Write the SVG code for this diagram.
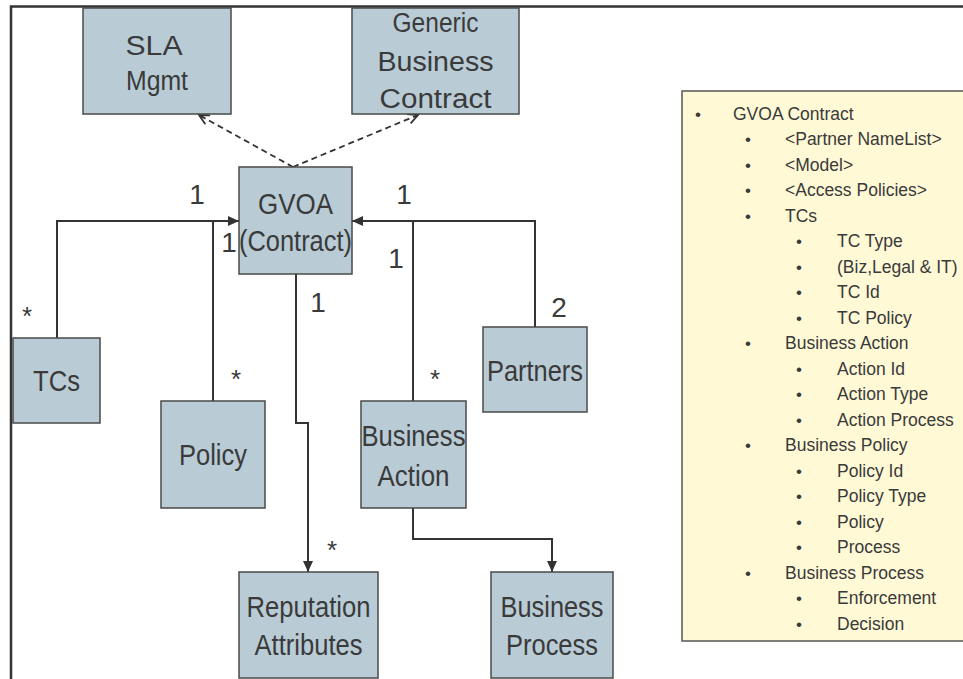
<svg xmlns="http://www.w3.org/2000/svg" width="963" height="679" viewBox="0 0 963 679">
  <style>
    .box { fill: #b9ccd6; stroke: #4a4a4a; stroke-width: 1.5; }
    .lbl { font-family: "Liberation Sans", Arial, sans-serif; font-size: 29px; fill: #3a3a3a; text-anchor: middle; }
    .lbl-s { font-size: 27px; }
    .mult { font-family: "Liberation Sans", Arial, sans-serif; font-size: 28px; fill: #3a3a3a; text-anchor: middle; }
    .star { font-family: "Liberation Sans", Arial, sans-serif; font-size: 26px; fill: #3a3a3a; text-anchor: middle; }
    .wire { fill: none; stroke: #333333; stroke-width: 2; }
    .dash { fill: none; stroke: #333333; stroke-width: 1.8; stroke-dasharray: 6 4; }
    .list { font-family: "Liberation Sans", Arial, sans-serif; font-size: 17.5px; fill: #3a3a3a; }
    .bul { font-family: "Liberation Sans", Arial, sans-serif; font-size: 17px; fill: #3a3a3a; text-anchor: middle; }
  </style>
  <defs>
    <marker id="solidHead" markerUnits="userSpaceOnUse" markerWidth="12" markerHeight="10" refX="11" refY="5" orient="auto">
      <path d="M0,0 L11,5 L0,10 z" fill="#333333"/>
    </marker>
    <marker id="openHead" markerUnits="userSpaceOnUse" markerWidth="14" markerHeight="12" refX="11" refY="6" orient="auto">
      <path d="M1,1 L11,6 L1,11" fill="none" stroke="#333333" stroke-width="1.8"/>
    </marker>
  </defs>

  <rect width="963" height="679" fill="#ffffff"/>

  <!-- slide frame -->
  <path d="M11,679 V6.5 H963" fill="none" stroke="#333333" stroke-width="2.5"/>

  <!-- attribute panel -->
  <g id="panel">
    <rect x="682" y="91" width="300" height="550" fill="#fff9d6" stroke="#555555" stroke-width="1.5"/>
    <g class="bul">
      <text x="698" y="119.5">•</text>
      <text x="748" y="145">•</text>
      <text x="748" y="170.5">•</text>
      <text x="748" y="196">•</text>
      <text x="748" y="221.5">•</text>
      <text x="799" y="247">•</text>
      <text x="799" y="272.5">•</text>
      <text x="799" y="298">•</text>
      <text x="799" y="323.5">•</text>
      <text x="748" y="349">•</text>
      <text x="799" y="374.5">•</text>
      <text x="799" y="400">•</text>
      <text x="799" y="425.5">•</text>
      <text x="748" y="451">•</text>
      <text x="799" y="476.5">•</text>
      <text x="799" y="502">•</text>
      <text x="799" y="527.5">•</text>
      <text x="799" y="553">•</text>
      <text x="748" y="578.5">•</text>
      <text x="799" y="604">•</text>
      <text x="799" y="629.5">•</text>
    </g>
    <g class="list">
      <text x="733" y="119.5">GVOA Contract</text>
      <text x="785" y="145">&lt;Partner NameList&gt;</text>
      <text x="785" y="170.5">&lt;Model&gt;</text>
      <text x="785" y="196">&lt;Access Policies&gt;</text>
      <text x="785" y="221.5">TCs</text>
      <text x="837" y="247">TC Type</text>
      <text x="837" y="272.5">(Biz,Legal &amp; IT)</text>
      <text x="837" y="298">TC Id</text>
      <text x="837" y="323.5">TC Policy</text>
      <text x="785" y="349">Business Action</text>
      <text x="837" y="374.5">Action Id</text>
      <text x="837" y="400">Action Type</text>
      <text x="837" y="425.5">Action Process</text>
      <text x="785" y="451">Business Policy</text>
      <text x="837" y="476.5">Policy Id</text>
      <text x="837" y="502">Policy Type</text>
      <text x="837" y="527.5">Policy</text>
      <text x="837" y="553">Process</text>
      <text x="785" y="578.5">Business Process</text>
      <text x="837" y="604">Enforcement</text>
      <text x="837" y="629.5">Decision</text>
    </g>
  </g>

  <!-- connectors -->
  <g id="connectors">
    <path class="dash" d="M293,167 L199,115" marker-end="url(#openHead)"/>
    <path class="dash" d="M293,167 L418,115" marker-end="url(#openHead)"/>
    <path class="wire" d="M57,338 V221 H239" marker-end="url(#solidHead)"/>
    <path class="wire" d="M213,401 V221"/>
    <path class="wire" d="M535,327 V221 H352" marker-end="url(#solidHead)"/>
    <path class="wire" d="M413,401 V221"/>
    <path class="wire" d="M296,274 V423 H308 V572" marker-end="url(#solidHead)"/>
    <path class="wire" d="M413,508 V539 H552 V572" marker-end="url(#solidHead)"/>
  </g>

  <!-- multiplicities -->
  <g id="multiplicities">
    <text class="mult" x="197" y="204">1</text>
    <text class="mult" x="229" y="252">1</text>
    <text class="mult" x="404" y="204">1</text>
    <text class="mult" x="396" y="268">1</text>
    <text class="mult" x="318" y="312">1</text>
    <text class="mult" x="559" y="317">2</text>
    <text class="star" x="27" y="325">*</text>
    <text class="star" x="236" y="388">*</text>
    <text class="star" x="435" y="388">*</text>
    <text class="star" x="332" y="559">*</text>
  </g>

  <g id="sla-mgmt">
    <rect class="box" x="83" y="8" width="148" height="106"/>
    <text class="lbl lbl-s" x="154" y="55" textLength="57" lengthAdjust="spacingAndGlyphs">SLA</text>
    <text class="lbl lbl-s" x="157" y="90" textLength="62" lengthAdjust="spacingAndGlyphs">Mgmt</text>
  </g>

  <g id="generic-business-contract">
    <rect class="box" x="352" y="8" width="167" height="106"/>
    <text class="lbl lbl-s" x="435.5" y="32" textLength="86" lengthAdjust="spacingAndGlyphs">Generic</text>
    <text class="lbl lbl-s" x="435.5" y="71" textLength="116" lengthAdjust="spacingAndGlyphs">Business</text>
    <text class="lbl lbl-s" x="435.5" y="108" textLength="112" lengthAdjust="spacingAndGlyphs">Contract</text>
  </g>

  <g id="gvoa-contract">
    <rect class="box" x="239" y="167" width="113" height="107"/>
    <text class="lbl" x="295.5" y="214" textLength="75" lengthAdjust="spacingAndGlyphs">GVOA</text>
    <text class="lbl" x="295.5" y="251" textLength="113" lengthAdjust="spacingAndGlyphs">(Contract)</text>
  </g>

  <g id="tcs">
    <rect class="box" x="13" y="338" width="87" height="85"/>
    <text class="lbl" x="56.5" y="391" font-size="31" textLength="47" lengthAdjust="spacingAndGlyphs">TCs</text>
  </g>

  <g id="policy">
    <rect class="box" x="161" y="401" width="104" height="107"/>
    <text class="lbl" x="213" y="465" textLength="68" lengthAdjust="spacingAndGlyphs">Policy</text>
  </g>

  <g id="partners">
    <rect class="box" x="483" y="327" width="104" height="85"/>
    <text class="lbl" x="535" y="381" textLength="96" lengthAdjust="spacingAndGlyphs">Partners</text>
  </g>

  <g id="business-action">
    <rect class="box" x="361" y="401" width="105" height="107"/>
    <text class="lbl" x="413.5" y="446" textLength="104" lengthAdjust="spacingAndGlyphs">Business</text>
    <text class="lbl" x="413.5" y="486" textLength="72" lengthAdjust="spacingAndGlyphs">Action</text>
  </g>

  <g id="reputation-attributes">
    <rect class="box" x="239" y="572" width="139" height="106"/>
    <text class="lbl" x="308.5" y="617" textLength="124" lengthAdjust="spacingAndGlyphs">Reputation</text>
    <text class="lbl" x="308.5" y="655" textLength="108" lengthAdjust="spacingAndGlyphs">Attributes</text>
  </g>

  <g id="business-process">
    <rect class="box" x="491" y="572" width="122" height="106"/>
    <text class="lbl" x="552" y="617" textLength="103" lengthAdjust="spacingAndGlyphs">Business</text>
    <text class="lbl" x="552" y="655" textLength="92" lengthAdjust="spacingAndGlyphs">Process</text>
  </g>
</svg>
